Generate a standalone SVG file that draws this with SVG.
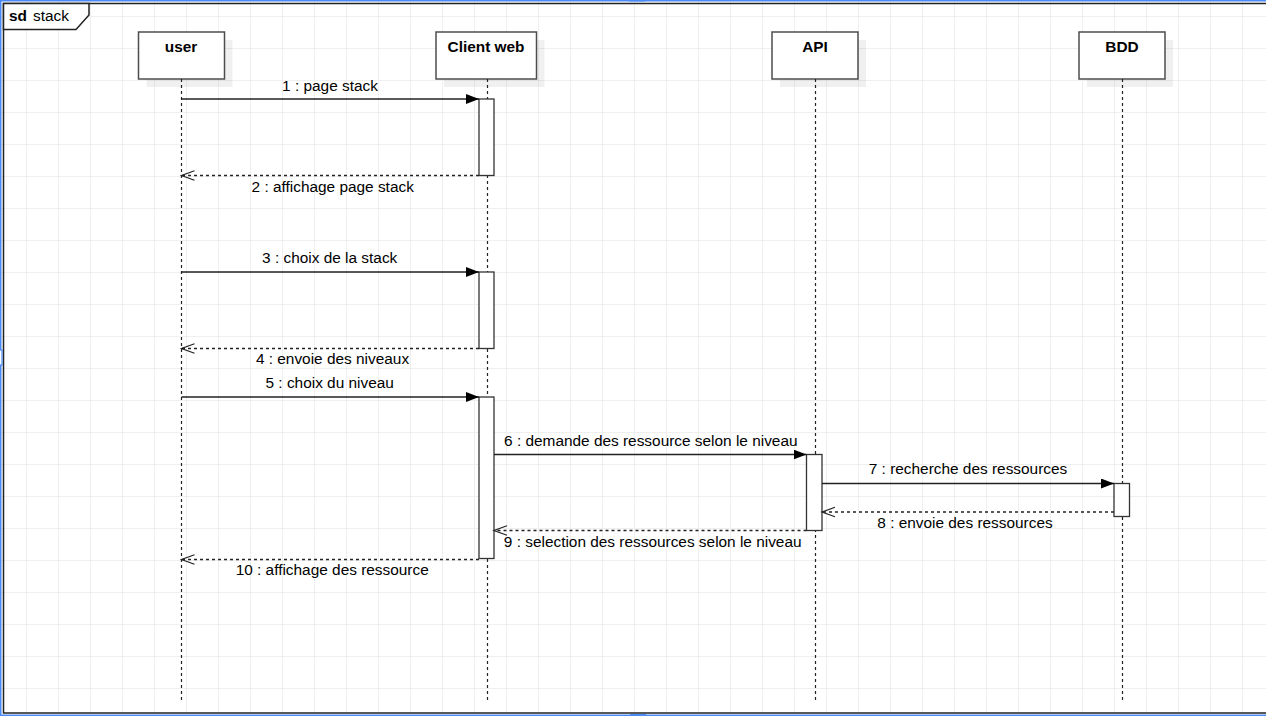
<svg xmlns="http://www.w3.org/2000/svg" width="1266" height="716" viewBox="0 0 1266 716">
  <style>
    .grid-line { stroke: #efefef; stroke-width: 1; fill: none; }
    .frame { fill: none; stroke: #222; stroke-width: 1.5; }
    .tab { fill: #fff; stroke: #222; stroke-width: 1.5; }
    .sel { fill: none; stroke: #4a8af4; stroke-width: 1.5; }
    .handle { fill: #fff; stroke: #4a8af4; stroke-width: 1.2; }
    .shadow { fill: #000; fill-opacity: 0.06; }
    .box { fill: #fff; stroke: #4d4d4d; stroke-width: 1.5; }
    .life { stroke: #222; stroke-width: 1.2; stroke-dasharray: 3 3; fill: none; }
    .act { fill: #fff; stroke: #333; stroke-width: 1.3; }
    .msg { stroke: #222; stroke-width: 1.3; fill: none; marker-end: url(#filled); }
    .ret { stroke: #222; stroke-width: 1.3; fill: none; stroke-dasharray: 3 3; marker-end: url(#open); }
    .name { font-family: "Liberation Sans", Arial, sans-serif; font-size: 15.4px; font-weight: bold; text-anchor: middle; fill: #000; }
    .lbl { font-family: "Liberation Sans", Arial, sans-serif; font-size: 15.4px; text-anchor: middle; fill: #000; }
    .title { font-family: "Liberation Sans", Arial, sans-serif; font-size: 15.4px; fill: #000; }
  </style>
  <defs>
    <pattern id="grid" patternUnits="userSpaceOnUse" x="26" y="16" width="32" height="32">
      <path class="grid-line" d="M0 0.5H32M0.5 0V32"/>
    </pattern>
    <marker id="filled" markerUnits="userSpaceOnUse" viewBox="0 0 13 10" refX="13" refY="5" markerWidth="13" markerHeight="10" orient="auto">
      <path d="M0,0 L13,5 L0,10 Z" fill="#000"/>
    </marker>
    <marker id="open" markerUnits="userSpaceOnUse" viewBox="-1 -1 15 12" refX="13" refY="5" markerWidth="15" markerHeight="12" orient="auto" overflow="visible">
      <path d="M0,0.3 L13,5 L0,9.7" fill="none" stroke="#222" stroke-width="1.2"/>
    </marker>
  </defs>

  <!-- canvas and grid -->
  <rect x="0" y="0" width="1266" height="716" fill="#fff"/>
  <rect x="0" y="0" width="1266" height="716" fill="url(#grid)"/>

  <!-- sequence frame -->
  <g id="frame">
    <rect class="frame" x="3.5" y="3.5" width="1270" height="709.5"/>
    <path class="tab" d="M3.5,3.5 H89 V15 L76,29.5 H3.5 Z"/>
    <text class="title" x="9" y="21" font-weight="bold">sd</text>
    <text class="title" x="33" y="21">stack</text>
  </g>

  <!-- selection outline -->
  <g id="selection">
    <rect class="sel" x="0.75" y="0.75" width="1272" height="714.5"/>
    <rect x="629" y="-4" width="16" height="5.5" fill="#4a8af4"/>
    <rect class="handle" x="-6" y="350" width="8" height="15"/>
    <rect x="630" y="714" width="16" height="6" fill="#4a8af4"/>
  </g>

  <!-- lifelines -->
  <g id="user">
    <rect class="shadow" x="146.5" y="40" width="86" height="47"/>
    <rect class="box" x="138.5" y="32" width="86" height="47"/>
    <text class="name" x="181" y="52.3">user</text>
    <line class="life" x1="181.5" y1="79" x2="181.5" y2="703"/>
  </g>

  <g id="client-web">
    <rect class="shadow" x="444" y="40" width="100.5" height="47"/>
    <rect class="box" x="436" y="32" width="100.5" height="47"/>
    <text class="name" x="486" y="52.3">Client web</text>
    <line class="life" x1="487.5" y1="79" x2="487.5" y2="703"/>
    <rect class="act" x="479" y="99" width="15" height="76.5"/>
    <rect class="act" x="479" y="272" width="15" height="76.5"/>
    <rect class="act" x="479" y="397" width="15" height="161.5"/>
  </g>

  <g id="api">
    <rect class="shadow" x="780" y="40" width="86" height="47"/>
    <rect class="box" x="772" y="32" width="86" height="47"/>
    <text class="name" x="815" y="52.3">API</text>
    <line class="life" x1="815.5" y1="79" x2="815.5" y2="703"/>
    <rect class="act" x="806.5" y="454.5" width="15.5" height="76"/>
  </g>

  <g id="bdd">
    <rect class="shadow" x="1087" y="40" width="86" height="47"/>
    <rect class="box" x="1079" y="32" width="86" height="47"/>
    <text class="name" x="1122" y="52.3">BDD</text>
    <line class="life" x1="1122.5" y1="79" x2="1122.5" y2="703"/>
    <rect class="act" x="1114" y="483.5" width="15.5" height="33"/>
  </g>

  <!-- messages -->
  <g id="messages">
    <line class="msg" x1="181.5" y1="99" x2="479" y2="99"/>
    <text class="lbl" x="330" y="91">1 : page stack</text>

    <line class="ret" x1="479" y1="175.5" x2="181.5" y2="175.5"/>
    <text class="lbl" x="332.7" y="191.7">2 : affichage page stack</text>

    <line class="msg" x1="181.5" y1="272" x2="479" y2="272"/>
    <text class="lbl" x="329.7" y="263.3">3 : choix de la stack</text>

    <line class="ret" x1="479" y1="348.5" x2="181.5" y2="348.5"/>
    <text class="lbl" x="332.5" y="364.3">4 : envoie des niveaux</text>

    <line class="msg" x1="181.5" y1="397" x2="479" y2="397"/>
    <text class="lbl" x="329.7" y="388.3">5 : choix du niveau</text>

    <line class="msg" x1="494" y1="454.5" x2="806.5" y2="454.5"/>
    <text class="lbl" x="650.8" y="446">6 : demande des ressource selon le niveau</text>

    <line class="msg" x1="822" y1="483.5" x2="1114" y2="483.5"/>
    <text class="lbl" x="968" y="474.3">7 : recherche des ressources</text>

    <line class="ret" x1="1114" y1="512" x2="822" y2="512"/>
    <text class="lbl" x="965" y="527.7">8 : envoie des ressources</text>

    <line class="ret" x1="806.5" y1="530.5" x2="494" y2="530.5"/>
    <text class="lbl" x="652.7" y="546.7">9 : selection des ressources selon le niveau</text>

    <line class="ret" x1="479" y1="559.5" x2="181.5" y2="559.5"/>
    <text class="lbl" x="332.2" y="575">10 : affichage des ressource</text>
  </g>
</svg>
